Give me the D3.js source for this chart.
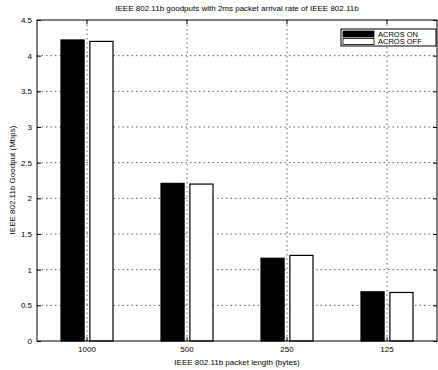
<!DOCTYPE html>
<html>
<head>
<meta charset="utf-8">
<script src="https://cdn.jsdelivr.net/npm/d3@7"></script>
<style>
  body { margin: 0; background: #fff; }
  svg { font-family: "Liberation Sans", Arial, sans-serif; }
  .grid line { stroke: #333; stroke-dasharray: 1.5 3; stroke-width: 0.8; }
</style>
</head>
<body>
<svg id="chart" width="438" height="370"></svg>
<script>
'use strict';

// Data
const packetLengths = ['1000', '500', '250', '125'];
const seriesNames = ['ACROS ON', 'ACROS OFF'];
const goodputOn = [4.22, 2.21, 1.16, 0.69];
const goodputOff = [4.20, 2.20, 1.20, 0.68];
const yTicks = [0, 0.5, 1, 1.5, 2, 2.5, 3, 3.5, 4, 4.5];

const plotLeft = 37, plotRight = 437, plotTop = 20, plotBottom = 341;

const svg = d3.select('#chart');

const x = d3.scaleBand()
  .domain(packetLengths)
  .range([plotLeft, plotRight]);

const inner = d3.scaleBand()
  .domain(seriesNames)
  .range([-26, 26])
  .paddingInner(0.2);

const y = d3.scaleLinear()
  .domain([0, 4.5])
  .range([plotBottom, plotTop]);

const colours = { 'ACROS ON': '#000', 'ACROS OFF': '#fff' };

// Dotted grid
const grid = svg.append('g').attr('class', 'grid');
grid.selectAll('line.h')
  .data(yTicks.slice(1, -1))
  .enter().append('line')
    .attr('class', 'h')
    .attr('x1', plotLeft).attr('x2', plotRight)
    .attr('y1', d => y(d)).attr('y2', d => y(d));
grid.selectAll('line.v')
  .data(packetLengths)
  .enter().append('line')
    .attr('class', 'v')
    .attr('x1', d => x(d) + x.bandwidth() / 2)
    .attr('x2', d => x(d) + x.bandwidth() / 2)
    .attr('y1', plotTop).attr('y2', plotBottom);

// Bars
const rows = packetLengths.map((p, i) => ({
  p: p,
  values: [
    { name: seriesNames[0], v: goodputOn[i] },
    { name: seriesNames[1], v: goodputOff[i] }
  ]
}));

const group = svg.selectAll('g.bar')
  .data(rows)
  .enter().append('g')
    .attr('class', 'bar')
    .attr('transform', d => `translate(${x(d.p) + x.bandwidth() / 2}, 0)`);

group.selectAll('rect')
  .data(d => d.values)
  .enter().append('rect')
    .attr('x', d => inner(d.name))
    .attr('width', inner.bandwidth())
    .attr('y', d => y(d.v))
    .attr('height', d => y(0) - y(d.v))
    .attr('fill', d => colours[d.name])
    .attr('stroke', '#000')
    .attr('stroke-width', 1.2);

// Axes
const yAxis = d3.axisLeft(y).tickValues(yTicks).tickSize(-4).tickPadding(5).tickFormat(d3.format('~g'));
const xAxis = d3.axisBottom(x).tickSize(-4).tickPadding(5);

svg.append('g')
  .attr('transform', `translate(${plotLeft}, 0)`)
  .call(yAxis)
  .call(g => g.select('.domain').remove())
  .call(g => g.selectAll('text').attr('font-size', 8).attr('fill', '#000'));

svg.append('g')
  .attr('transform', `translate(0, ${plotBottom})`)
  .call(xAxis)
  .call(g => g.select('.domain').remove())
  .call(g => g.selectAll('text').attr('font-size', 8).attr('fill', '#000'));

// Top/right ticks
svg.append('g')
  .attr('transform', `translate(0, ${plotTop})`)
  .call(d3.axisTop(x).tickSize(-4).tickFormat(''))
  .call(g => g.select('.domain').remove());
svg.append('g')
  .attr('transform', `translate(${plotRight}, 0)`)
  .call(d3.axisRight(y).tickValues(yTicks).tickSize(-4).tickFormat(''))
  .call(g => g.select('.domain').remove());

// Frame
svg.append('rect')
  .attr('x', plotLeft).attr('y', plotTop)
  .attr('width', plotRight - plotLeft).attr('height', plotBottom - plotTop)
  .attr('fill', 'none')
  .attr('stroke', '#000')
  .attr('stroke-width', 1);

// Title and axis labels
svg.append('text')
  .attr('x', 237).attr('y', 11)
  .attr('text-anchor', 'middle')
  .attr('font-size', 8)
  .text('IEEE 802.11b goodputs with 2ms packet arrival rate of IEEE 802.11b');

svg.append('text')
  .attr('x', 237).attr('y', 365)
  .attr('text-anchor', 'middle')
  .attr('font-size', 8)
  .text('IEEE 802.11b packet length (bytes)');

svg.append('text')
  .attr('transform', 'translate(15, 180) rotate(-90)')
  .attr('text-anchor', 'middle')
  .attr('font-size', 8)
  .text('IEEE 802.11b Goodput (Mbps)');

// Legend
const legend = svg.append('g').attr('transform', 'translate(341, 29)');
legend.append('rect')
  .attr('width', 95).attr('height', 17)
  .attr('fill', '#fff').attr('stroke', '#000');
const item = legend.selectAll('g.item')
  .data(seriesNames)
  .enter().append('g')
    .attr('class', 'item')
    .attr('transform', (d, i) => `translate(2, ${2 + i * 7.5})`);
item.append('rect')
  .attr('width', 31).attr('height', 6)
  .attr('fill', d => colours[d])
  .attr('stroke', '#000')
  .attr('stroke-width', 0.8);
item.append('text')
  .attr('x', 35).attr('y', 5.5)
  .attr('font-size', 7.5)
  .text(d => d);
</script>
</body>
</html>
